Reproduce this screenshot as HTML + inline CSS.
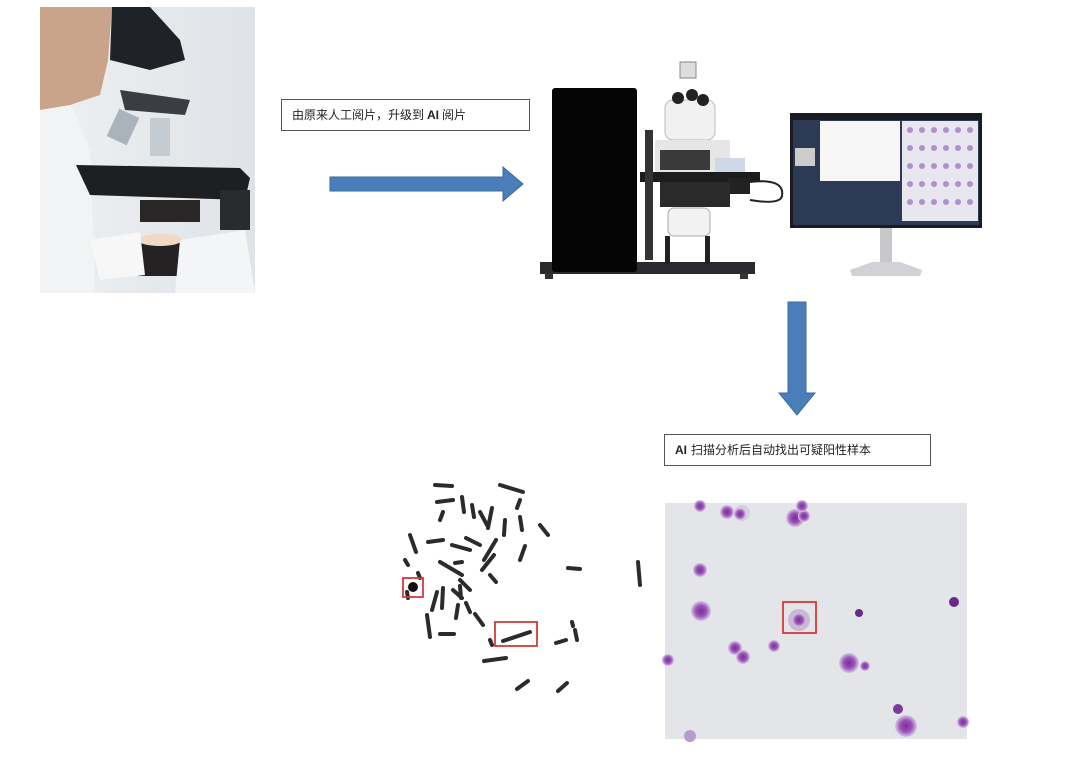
<!DOCTYPE html>
<html><head><meta charset="utf-8"><style>
html,body{margin:0;padding:0;background:#fff;}
body{width:1080px;height:764px;position:relative;overflow:hidden;font-family:"Liberation Sans","Noto Sans CJK SC",sans-serif;}
.box{position:absolute;border:1.5px solid #555;background:#fff;font-size:12px;color:#222;box-sizing:border-box;padding-left:10px;line-height:1;display:flex;align-items:center;}
</style></head><body>
<svg width="1080" height="764" style="position:absolute;left:0;top:0">
<defs>
<linearGradient id="bg1" x1="0" y1="0" x2="1" y2="0"><stop offset="0" stop-color="#eef0f2"/><stop offset="1" stop-color="#dfe3e7"/></linearGradient>
<radialGradient id="cell" cx="0.5" cy="0.5" r="0.5"><stop offset="0" stop-color="#7a2e9a"/><stop offset="0.55" stop-color="#9a55b8"/><stop offset="1" stop-color="#d8c8e2"/></radialGradient>
</defs>
<!-- photo 1 -->
<rect x="40" y="7" width="215" height="286" fill="url(#bg1)"/>
<path d="M40 7 H112 L108 60 L100 95 L70 105 L40 110Z" fill="#c9a48a"/>
<path d="M40 110 L72 105 L90 150 L95 293 H40Z" fill="#f2f3f5"/>
<path d="M112 7 L150 7 L180 40 L185 60 L150 70 L110 60Z" fill="#1f2226"/>
<path d="M120 90 L190 100 L185 115 L125 110Z" fill="#3a3d42"/>
<rect x="112" y="112" width="22" height="30" fill="#aab3bb" transform="rotate(25 123 127)"/>
<rect x="150" y="118" width="20" height="38" fill="#c4ccd2"/>
<path d="M76 165 L240 168 L250 178 L245 200 L90 195 Z" fill="#1d1f23"/>
<rect x="140" y="200" width="60" height="22" fill="#2a2626"/>
<rect x="138" y="240" width="46" height="36" fill="#242222"/>
<ellipse cx="160" cy="240" rx="22" ry="6" fill="#f1d9c6"/>
<path d="M90 240 L140 232 L145 275 L100 280Z" fill="#f7f7f7"/>
<path d="M180 240 L245 230 L255 293 L175 293Z" fill="#f4f5f7"/>
<rect x="220" y="190" width="30" height="40" fill="#2a2b2f"/>
<!-- arrow horizontal -->
<path d="M330 177 H503 V167 L523 184 L503 201 V191 H330Z" fill="#4a7ebb" stroke="#3a6aa3" stroke-width="1"/>
<!-- instrument -->
<rect x="540" y="262" width="215" height="12" fill="#2a2a2e"/>
<rect x="545" y="273" width="8" height="6" fill="#333"/><rect x="740" y="273" width="8" height="6" fill="#333"/>
<rect x="552" y="88" width="85" height="184" rx="3" fill="#050505"/>
<rect x="665" y="100" width="50" height="40" rx="8" fill="#f1f1f1" stroke="#bbb"/>
<circle cx="678" cy="98" r="6" fill="#222"/><circle cx="692" cy="95" r="6" fill="#222"/><circle cx="703" cy="100" r="6" fill="#222"/>
<rect x="680" y="62" width="16" height="16" fill="#ddd" stroke="#888"/>
<rect x="655" y="140" width="75" height="35" fill="#e6e6e6"/>
<rect x="660" y="150" width="50" height="20" fill="#3a3a3a"/>
<rect x="715" y="158" width="30" height="14" fill="#cfd8e6"/>
<rect x="640" y="172" width="120" height="10" fill="#1c1c1c"/>
<rect x="728" y="178" width="22" height="16" fill="#222"/>
<path d="M750 182 Q785 178 782 196 Q780 205 750 200" fill="none" stroke="#222" stroke-width="2"/>
<rect x="660" y="182" width="70" height="25" fill="#2a2a2a"/>
<rect x="668" y="208" width="42" height="28" rx="6" fill="#f2f2f2" stroke="#aaa"/>
<rect x="665" y="236" width="5" height="28" fill="#222"/><rect x="705" y="236" width="5" height="28" fill="#222"/>
<rect x="645" y="130" width="8" height="130" fill="#333"/>
<!-- monitor -->
<rect x="790" y="113" width="192" height="115" fill="#1b1c22"/>
<rect x="793" y="120" width="186" height="105" fill="#2d3a55"/>
<rect x="820" y="121" width="80" height="60" fill="#f6f6f6"/>
<rect x="902" y="121" width="76" height="100" fill="#e8e6ee"/>
<g fill="#a27cc0" opacity="0.8">
<circle cx="910" cy="130" r="3"/><circle cx="922" cy="130" r="3"/><circle cx="934" cy="130" r="3"/><circle cx="946" cy="130" r="3"/><circle cx="958" cy="130" r="3"/><circle cx="970" cy="130" r="3"/>
<circle cx="910" cy="148" r="3"/><circle cx="922" cy="148" r="3"/><circle cx="934" cy="148" r="3"/><circle cx="946" cy="148" r="3"/><circle cx="958" cy="148" r="3"/><circle cx="970" cy="148" r="3"/>
<circle cx="910" cy="166" r="3"/><circle cx="922" cy="166" r="3"/><circle cx="934" cy="166" r="3"/><circle cx="946" cy="166" r="3"/><circle cx="958" cy="166" r="3"/><circle cx="970" cy="166" r="3"/>
<circle cx="910" cy="184" r="3"/><circle cx="922" cy="184" r="3"/><circle cx="934" cy="184" r="3"/><circle cx="946" cy="184" r="3"/><circle cx="958" cy="184" r="3"/><circle cx="970" cy="184" r="3"/>
<circle cx="910" cy="202" r="3"/><circle cx="922" cy="202" r="3"/><circle cx="934" cy="202" r="3"/><circle cx="946" cy="202" r="3"/><circle cx="958" cy="202" r="3"/><circle cx="970" cy="202" r="3"/>
</g>
<rect x="795" y="148" width="20" height="18" fill="#ccc"/>
<rect x="880" y="228" width="12" height="35" fill="#c8c8cc"/>
<path d="M850 270 L872 262 H900 L922 270 L920 276 H852Z" fill="#d2d2d6"/>
<!-- vertical arrow -->
<path d="M788 302 H806 V393 H815 L797 415 L779 393 H788Z" fill="#4a7ebb" stroke="#3a6aa3" stroke-width="1"/>
<!-- cells image -->
<rect x="665" y="503" width="302" height="236" fill="#e4e5e8"/>
<g>
<circle cx="742" cy="513" r="8" fill="#d9cde0"/><circle cx="727" cy="512" r="7" fill="url(#cell)"/><circle cx="740" cy="514" r="6" fill="url(#cell)"/>
<circle cx="795" cy="518" r="9" fill="url(#cell)"/><circle cx="804" cy="516" r="6" fill="url(#cell)"/><circle cx="802" cy="506" r="6" fill="url(#cell)"/>
<circle cx="700" cy="506" r="6" fill="url(#cell)"/>
<circle cx="700" cy="570" r="7" fill="url(#cell)"/>
<circle cx="701" cy="611" r="10" fill="url(#cell)"/>
<circle cx="799" cy="620" r="11" fill="#cbb8d6"/><circle cx="799" cy="620" r="7" fill="url(#cell)"/>
<circle cx="859" cy="613" r="4" fill="#6a2a8a"/>
<circle cx="954" cy="602" r="5" fill="#6a2a8a"/>
<circle cx="735" cy="648" r="7" fill="url(#cell)"/><circle cx="743" cy="657" r="7" fill="url(#cell)"/>
<circle cx="774" cy="646" r="6" fill="url(#cell)"/>
<circle cx="849" cy="663" r="10" fill="url(#cell)"/><circle cx="865" cy="666" r="5" fill="url(#cell)"/>
<circle cx="668" cy="660" r="6" fill="url(#cell)"/>
<circle cx="898" cy="709" r="5" fill="#7a3a9a"/>
<circle cx="906" cy="726" r="11" fill="url(#cell)"/>
<circle cx="963" cy="722" r="6" fill="url(#cell)"/>
<circle cx="690" cy="736" r="6" fill="#b79ccc"/>
</g>
<rect x="783" y="602" width="33" height="31" fill="none" stroke="#d13a3a" stroke-width="1.8"/>
<!-- chromosomes -->
<g stroke="#2b2b2b" stroke-width="4" stroke-linecap="round" fill="none">
<path d="M435 485 L452 486 M500 485 L523 492 M437 502 L453 500 M462 497 L464 512 M472 505 L474 517 M480 512 L487 525 M492 508 L488 528 M443 512 L440 520 M505 520 L504 535 M520 500 L517 508 M520 517 L522 530 M540 525 L548 535 M410 535 L416 552 M428 542 L443 540 M452 545 L470 550 M466 538 L480 545 M496 540 L484 560 M405 560 L408 565 M440 562 L462 575 M455 563 L462 562 M482 570 L494 555 M568 568 L580 569 M520 560 L525 546 M490 575 L496 582 M437 592 L432 610 M443 588 L442 608 M460 586 L461 598 M458 605 L456 618 M427 615 L430 637 M453 590 L462 598 M466 603 L470 612 M475 614 L483 625 M440 634 L454 634 M556 643 L566 640 M575 630 L577 640 M484 661 L506 658 M517 689 L528 681 M558 691 L567 683 M638 562 L640 585 M418 573 L420 578 M407 592 L408 598 M572 622 L573 626 M460 580 L470 590 M490 640 L492 645"/>
</g>
<g stroke="#2b2b2b" stroke-width="4" stroke-linecap="round">
<path d="M503 641 L530 632"/>
</g>
<circle cx="413" cy="587" r="5" fill="#111"/>
<rect x="403" y="578" width="20" height="19" fill="none" stroke="#d13a3a" stroke-width="1.8"/>
<rect x="495" y="622" width="42" height="24" fill="none" stroke="#d13a3a" stroke-width="1.8"/>
</svg>
<div class="box" style="left:281px;top:99px;width:249px;height:32px;">由原来人工阅片，升级到 <b style="margin:0 3px">AI</b> 阅片</div>
<div class="box" style="left:664px;top:434px;width:267px;height:32px;"><b style="margin-right:4px">AI</b>扫描分析后自动找出可疑阳性样本</div>
</body></html>
